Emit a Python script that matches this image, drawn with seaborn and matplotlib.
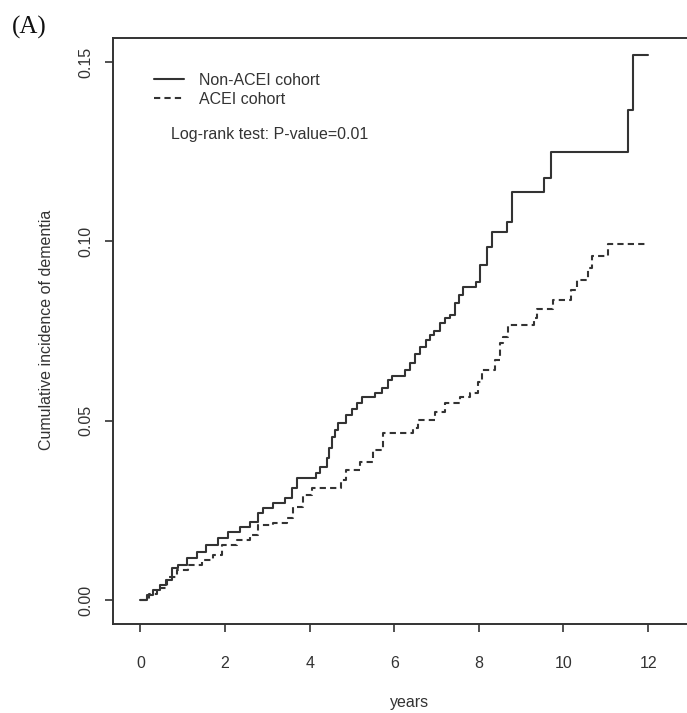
import numpy as np
import pandas as pd
import matplotlib
matplotlib.use("Agg")
import matplotlib.pyplot as plt
import seaborn as sns

# ---- data ----
cohorts = ["Non-ACEI cohort", "ACEI cohort"]

non_t = [0.00, 0.15, 0.30, 0.45, 0.60, 0.74, 0.89, 1.09, 1.33, 1.56, 1.84, 2.08,
         2.35, 2.59, 2.78, 2.90, 3.14, 3.42, 3.57, 3.69, 4.15, 4.24, 4.40, 4.46,
         4.52, 4.60, 4.68, 4.87, 5.00, 5.11, 5.23, 5.54, 5.70, 5.86, 5.94, 6.25,
         6.37, 6.50, 6.60, 6.75, 6.84, 6.95, 7.08, 7.20, 7.32, 7.43, 7.52, 7.63,
         7.93, 8.03, 8.18, 8.30, 8.66, 8.79, 9.54, 9.70, 11.53, 11.65, 12.00]
non_v = [0.0000, 0.0014, 0.0028, 0.0042, 0.0056, 0.0088, 0.0098, 0.0116, 0.0135, 0.0153, 0.0172, 0.0190,
         0.0204, 0.0218, 0.0242, 0.0256, 0.0270, 0.0284, 0.0311, 0.0339, 0.0355, 0.0372, 0.0395, 0.0425,
         0.0455, 0.0475, 0.0493, 0.0516, 0.0532, 0.0549, 0.0567, 0.0576, 0.0590, 0.0613, 0.0625, 0.0640,
         0.0661, 0.0685, 0.0706, 0.0725, 0.0739, 0.0750, 0.0772, 0.0785, 0.0795, 0.0827, 0.0850, 0.0874,
         0.0888, 0.0934, 0.0985, 0.1027, 0.1055, 0.1139, 0.1177, 0.1250, 0.1366, 0.1520, 0.1520]

acei_t = [0.00, 0.20, 0.38, 0.62, 0.86, 1.13, 1.45, 1.72, 1.92, 2.27, 2.59, 2.78,
          3.14, 3.46, 3.61, 3.85, 4.05, 4.75, 4.87, 5.19, 5.50, 5.74, 6.45, 6.56,
          6.96, 7.20, 7.55, 7.79, 7.99, 8.07, 8.38, 8.50, 8.58, 8.69, 9.30, 9.37,
          9.76, 10.17, 10.31, 10.58, 10.68, 11.06, 12.00]
acei_v = [0.0000, 0.0018, 0.0033, 0.0065, 0.0084, 0.0098, 0.0112, 0.0125, 0.0153, 0.0167, 0.0181, 0.0209,
          0.0214, 0.0228, 0.0260, 0.0293, 0.0311, 0.0335, 0.0363, 0.0386, 0.0418, 0.0465, 0.0480, 0.0502,
          0.0525, 0.0550, 0.0565, 0.0576, 0.0609, 0.0641, 0.0669, 0.0716, 0.0734, 0.0767, 0.0786, 0.0811,
          0.0837, 0.0864, 0.0892, 0.0925, 0.0959, 0.0992, 0.0992]

x_ticks = [0, 2, 4, 6, 8, 10, 12]
y_ticks = [0.00, 0.05, 0.10, 0.15]
y_tick_labels = ["0.00", "0.05", "0.10", "0.15"]

df = pd.concat([
    pd.DataFrame({"years": non_t, "cuminc": non_v, "cohort": cohorts[0]}),
    pd.DataFrame({"years": acei_t, "cuminc": acei_v, "cohort": cohorts[1]}),
], ignore_index=True)

# ---- style ----
sns.set_theme(style="ticks")
plt.rcParams["font.family"] = ["Liberation Sans", "DejaVu Sans"]
ink = "#333333"

W, H = 687, 713
fig = plt.figure(figsize=(W / 100, H / 100), dpi=100)
ax = fig.add_axes([113 / W, (H - 624) / H, 574 / W, 586.3 / H])

sns.lineplot(data=df, x="years", y="cuminc", style="cohort", style_order=cohorts,
             dashes={cohorts[0]: "", cohorts[1]: (3, 2)}, color=ink, lw=1.5,
             drawstyle="steps-post", estimator=None, sort=False, ax=ax)

ax.set_xlim(-0.65, 12.92)
ax.set_ylim(-0.00669, 0.1568)

ax.set_xticks(x_ticks)
ax.set_xticklabels([str(t) for t in x_ticks])
ax.set_yticks(y_ticks)
ax.set_yticklabels(y_tick_labels)

for s in ["left", "bottom", "top"]:
    ax.spines[s].set_color(ink)
    ax.spines[s].set_linewidth(1.4)
ax.spines["right"].set_visible(False)

ax.tick_params(axis="both", direction="out", length=6, width=1.2, color=ink,
               labelcolor=ink, labelsize=11.5)
ax.tick_params(axis="x", pad=17)
ax.tick_params(axis="y", pad=8)
for lab in ax.get_yticklabels():
    lab.set_rotation(90)
    lab.set_va("center")
    lab.set_ha("right")

ax.set_xlabel("years", fontsize=11.5, color=ink, va="center")
ax.xaxis.set_label_coords((410 - 113) / 574, (624 - 703) / 586.3)
ax.set_ylabel("Cumulative incidence of dementia", fontsize=11.5, color=ink, va="center")
ax.yaxis.set_label_coords((46 - 113) / 574, (624 - 330) / 586.3)

# legend
leg = ax.get_legend()
if leg is not None:
    leg.remove()
handles = ax.lines[:2]
ax.legend(handles, cohorts, loc="upper left",
          bbox_to_anchor=((154 - 113) / 574, (624 - 73) / 586.3),
          frameon=False, fontsize=11.5, handlelength=1.9, handletextpad=0.9,
          labelspacing=0.25, borderpad=0, borderaxespad=0, labelcolor=ink)

ax.text((171 - 113) / 574, (624 - 135) / 586.3, "Log-rank test: P-value=0.01",
        transform=ax.transAxes, fontsize=11.5, color=ink, va="center", ha="left")

fig.text(12 / W, 1 - 27 / H, "(A)", fontsize=18, family=["Liberation Serif", "DejaVu Serif"],
         color="#111111", va="center", ha="left")

fig.savefig("out.png", dpi=100)
